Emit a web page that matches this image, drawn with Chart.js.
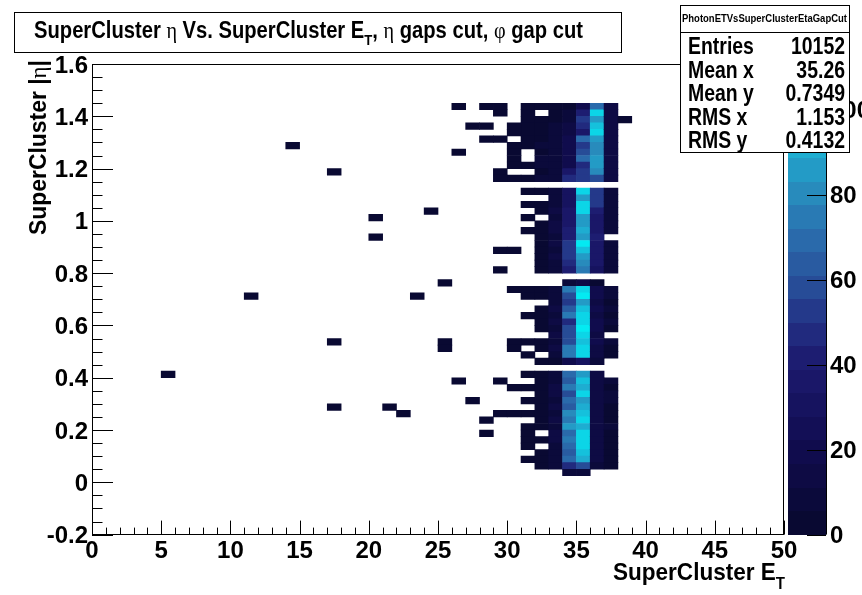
<!DOCTYPE html>
<html>
<head>
<meta charset="utf-8">
<script src="https://cdn.jsdelivr.net/npm/chart.js@4.4.1/dist/chart.umd.min.js"></script>
<style>
  html, body { margin: 0; padding: 0; background: #ffffff; }
  #wrap { width: 862px; height: 595px; position: relative; }
</style>
</head>
<body>
<div id="wrap"><canvas id="c" width="862" height="595"></canvas></div>
<script>
// Lower edge of every |eta| row, top row first (bin width 0.025)
const etaLow = [1.425,1.4,1.375,1.35,1.325,1.3,1.275,1.25,1.225,1.2,1.175,1.15,1.125,
  1.1,1.075,1.05,1.025,1.0,0.975,0.95,0.925,0.9,0.875,0.85,0.825,0.8,0.775,
  0.75,0.725,0.7,0.675,0.65,0.625,0.6,0.575,0.55,0.525,0.5,0.475,0.45,0.425,
  0.4,0.375,0.35,0.325,0.3,0.275,0.25,0.225,0.2,0.175,0.15,0.125,0.1,0.075,0.05,0.025];

// Entries per |eta| row for each E_T bin (bin lower edge in the name)
const col31 = [3,2,3,4,3,3,4,0,0,3,0,4,0,
  3,0,3,0,3,0,3,0,0,0,0,0,0,0,
  0,3,3,0,0,3,0,0,0,3,0,3,0,0,
  3,0,2,0,3,0,2,0,3,2,3,2,0,2,0,0];
const col32 = [2,0,3,4,5,5,6,5,6,6,5,6,0,
  3,0,4,3,0,4,3,4,3,4,3,3,3,0,
  0,3,3,0,4,3,3,3,0,3,3,0,3,0,
  4,3,3,4,4,3,3,4,4,0,4,0,3,3,2,0];
const col33 = [3,4,5,6,7,8,8,8,9,10,9,10,0,
  8,10,10,12,10,12,12,10,12,10,12,10,10,0,
  0,10,8,10,12,10,12,11,12,10,12,10,5,0,
  10,10,12,12,11,12,10,12,11,12,12,10,10,8,6,0];
const col34 = [5,8,10,12,15,18,20,18,20,22,35,45,0,
  30,28,32,35,38,35,40,42,50,55,52,45,40,0,
  8,72,58,55,65,75,45,60,60,60,75,75,20,0,
  70,65,75,60,70,65,80,75,85,70,72,70,65,70,45,6];
const col35 = [22,40,55,45,35,70,55,60,68,45,55,55,0,
  100,85,100,100,85,88,92,85,110,95,88,80,75,0,
  12,100,112,85,95,100,100,108,100,95,100,105,30,0,
  85,95,90,105,85,90,95,100,90,105,100,105,95,90,60,8];
const col36 = [70,100,85,95,100,85,80,82,85,85,80,58,0,
  55,55,50,40,38,36,38,40,35,35,38,35,32,0,
  5,20,18,16,18,16,17,18,16,18,16,15,6,0,
  15,15,14,15,14,16,15,16,14,15,14,15,12,12,8,0];
const col37 = [12,15,12,12,14,12,12,13,14,12,12,14,0,
  10,8,8,8,6,8,8,0,7,7,6,6,6,0,
  0,6,6,5,6,5,6,5,0,6,5,5,0,0,
  0,6,5,6,6,5,4,5,6,5,4,5,4,4,3,0];

// Isolated entries away from the main band
const strayEt  = [5,11,14,17,20,20,24,23,25,17,25,25,26,27,17,21,22,28,28,29,30,30,30,30,30,
  26,26,28,29,27,28,29,28,29,30,30,30,30,30,30,30,29,29,38,29,30,29,29];
const strayEta = [0.4,0.7,1.275,1.175,1.0,0.925,1.025,0.7,0.75,0.525,0.525,0.5,0.375,0.3,0.275,0.275,0.25,0.225,0.175,0.25,0.25,0.35,0.525,0.5,0.725,
  1.25,1.425,1.425,1.425,1.35,1.35,1.4,1.3,1.3,1.35,1.325,1.275,1.25,1.225,1.2,1.15,1.175,1.15,1.375,0.875,0.875,0.8,0.375];
const strayN   = [1,1,1,1,1,1,1,1,1,1,1,1,1,1,1,1,1,1,1,1,1,1,1,1,1,
  1,1,1,1,1,1,1,1,1,2,1,2,1,1,2,1,1,1,1,1,1,1,1];

// Axis ticks
const etTicks = [0,5,10,15,20,25,30,35,40,45,50];
const zTicks = [0,20,40,60,80,100];

// Statistics box
const statsName = 'PhotonETVsSuperClusterEtaGapCut';
const statsLabels = ['Entries', 'Mean x', 'Mean y', 'RMS x', 'RMS y'];
const statsValues = ['10152', '35.26', '0.7349', '1.153', '0.4132'];

const ET_BIN = 1, ETA_BIN = 0.025;
const Z_MAX = 110.7, N_LEVELS = 20;
const SANS = '"Liberation Sans", Arial, Helvetica, sans-serif';
const SERIF = '"Liberation Serif", "DejaVu Serif", serif';

// colour palette (value -> rgb)
const paletteStops = [
  [0, [8, 8, 45]], [20, [16, 12, 78]], [40, [28, 26, 110]], [50, [35, 48, 132]],
  [60, [40, 82, 155]], [70, [42, 108, 172]], [80, [40, 138, 188]], [90, [32, 168, 206]],
  [100, [16, 204, 226]], [110.7, [0, 245, 248]]
];
function paletteAt(v) {
  for (let i = 1; i < paletteStops.length; i++) {
    const [v1, c1] = paletteStops[i];
    const [v0, c0] = paletteStops[i - 1];
    if (v <= v1) {
      const t = (v - v0) / (v1 - v0);
      const c = c0.map((a, k) => Math.round(a + (c1[k] - a) * t));
      return `rgb(${c[0]},${c[1]},${c[2]})`;
    }
  }
  const c = paletteStops[paletteStops.length - 1][1];
  return `rgb(${c[0]},${c[1]},${c[2]})`;
}
function levelOf(n) {
  return Math.max(0, Math.min(N_LEVELS - 1, Math.floor(n * N_LEVELS / Z_MAX)));
}
function levelColor(lvl) {
  return paletteAt((lvl + 0.5) * Z_MAX / N_LEVELS);
}

// Build the cell list
const cells = [];
[[31, col31], [32, col32], [33, col33], [34, col34], [35, col35], [36, col36], [37, col37]].forEach(([et, counts]) => {
  counts.forEach((n, i) => {
    if (n > 0) cells.push({ x: et + ET_BIN / 2, y: [etaLow[i], etaLow[i] + ETA_BIN], n });
  });
});
strayEt.forEach((et, i) => {
  cells.push({ x: et + ET_BIN / 2, y: [strayEta[i], strayEta[i] + ETA_BIN], n: strayN[i] });
});

// text helpers: runs drawn left to right with a common horizontal squeeze
function runsWidth(ctx, runs, sx) {
  let w = 0;
  runs.forEach(r => { ctx.font = r.font; w += ctx.measureText(r.t).width * sx; });
  return w;
}
function drawRuns(ctx, runs, x, y, sx) {
  let cx = x;
  runs.forEach(r => {
    ctx.save();
    ctx.font = r.font;
    ctx.textBaseline = 'alphabetic';
    ctx.textAlign = 'left';
    ctx.translate(cx, y + (r.dy || 0));
    ctx.scale(sx, 1);
    ctx.fillText(r.t, 0, 0);
    ctx.restore();
    ctx.font = r.font;
    cx += ctx.measureText(r.t).width * sx;
  });
}
function fitRuns(ctx, runs, targetW) {
  return targetW / runsWidth(ctx, runs, 1);
}

const decor = {
  id: 'decor',
  beforeDraw(chart) {
    const ctx = chart.ctx;
    ctx.save();
    ctx.fillStyle = '#ffffff';
    ctx.fillRect(0, 0, chart.width, chart.height);
    ctx.restore();
  },
  afterDatasetsDraw(chart) {
    const ctx = chart.ctx;
    const xs = chart.scales.x, ys = chart.scales.y, zs = chart.scales.z;
    const a = chart.chartArea;
    ctx.save();
    ctx.strokeStyle = '#000';
    ctx.lineWidth = 1;
    // frame
    ctx.strokeRect(Math.round(a.left) + 0.5, Math.round(a.top) + 0.5,
      Math.round(a.right - a.left) - 1, Math.round(a.bottom - a.top) - 1);
    // x ticks: major every 5, minor every 1
    ctx.beginPath();
    for (let v = 0; v <= 50; v += 1) {
      const px = Math.round(xs.getPixelForValue(v)) + 0.5;
      const len = (v % 5 === 0) ? 14 : 7;
      ctx.moveTo(px, a.bottom);
      ctx.lineTo(px, a.bottom - len);
    }
    // y ticks: major every 0.2, minor every 0.05
    for (let k = 0; k <= 36; k++) {
      const v = -0.2 + k * 0.05;
      const py = Math.round(ys.getPixelForValue(v)) + 0.5;
      const len = (k % 4 === 0) ? 21 : 10.5;
      ctx.moveTo(a.left, py);
      ctx.lineTo(a.left + len, py);
    }
    ctx.stroke();

    // colour scale
    const pl = 788, pr = 826;
    for (let l = 0; l < N_LEVELS; l++) {
      const y0 = zs.getPixelForValue(l * Z_MAX / N_LEVELS);
      const y1 = zs.getPixelForValue((l + 1) * Z_MAX / N_LEVELS);
      ctx.fillStyle = levelColor(l);
      ctx.fillRect(pl, Math.round(y1), pr - pl, Math.round(y0) - Math.round(y1));
    }
    ctx.beginPath();
    ctx.moveTo(pr + 0.5, a.top);
    ctx.lineTo(pr + 0.5, a.bottom);
    zTicks.forEach(v => {
      const py = Math.round(zs.getPixelForValue(v)) + 0.5;
      ctx.moveTo(pr, py);
      ctx.lineTo(pr - 19, py);
    });
    ctx.stroke();
    ctx.restore();
  },
  afterDraw(chart) {
    const ctx = chart.ctx;
    ctx.save();
    ctx.fillStyle = '#000';
    ctx.strokeStyle = '#000';
    ctx.lineWidth = 1;

    // title box
    ctx.fillStyle = '#fff';
    ctx.fillRect(14, 12, 607, 40);
    ctx.strokeRect(14.5, 12.5, 607, 40);
    ctx.fillStyle = '#000';
    const B = 'bold 23px ' + SANS, G = '23px ' + SERIF, SUB = 'bold 15px ' + SANS;
    const titleRuns = [
      { t: 'SuperCluster ', font: B }, { t: 'η', font: G }, { t: ' Vs. SuperCluster E', font: B },
      { t: 'T', font: SUB, dy: 7 }, { t: ', ', font: B }, { t: 'η', font: G },
      { t: ' gaps cut, ', font: B }, { t: 'φ', font: G }, { t: ' gap cut', font: B }
    ];
    const tsx = fitRuns(ctx, titleRuns, 549);
    drawRuns(ctx, titleRuns, 34, 38, tsx);

    // x axis title
    const BX = 'bold 24px ' + SANS;
    const xRuns = [{ t: 'SuperCluster E', font: BX }, { t: 'T', font: 'bold 16px ' + SANS, dy: 9 }];
    const xsx = fitRuns(ctx, xRuns, 172);
    drawRuns(ctx, xRuns, 613, 580, xsx);

    // y axis title (rotated)
    const yRuns = [{ t: 'SuperCluster |', font: BX }, { t: 'η', font: '24px ' + SERIF }, { t: '|', font: BX }];
    const ysx = fitRuns(ctx, yRuns, 175);
    ctx.save();
    ctx.translate(46, 235);
    ctx.rotate(-Math.PI / 2);
    drawRuns(ctx, yRuns, 0, 0, ysx);
    ctx.restore();

    // statistics box
    ctx.fillStyle = '#fff';
    ctx.fillRect(680, 5, 169, 147);
    ctx.strokeRect(680.5, 5.5, 169, 147);
    ctx.beginPath();
    ctx.moveTo(680, 32.5);
    ctx.lineTo(849, 32.5);
    ctx.stroke();
    ctx.fillStyle = '#000';
    const hRuns = [{ t: statsName, font: 'bold 10px ' + SANS }];
    const hsx = fitRuns(ctx, hRuns, 165);
    drawRuns(ctx, hRuns, 682, 22, hsx);
    const SF = 'bold 24px ' + SANS;
    const base = [54, 78, 101, 125, 148];
    statsLabels.forEach((lab, i) => {
      drawRuns(ctx, [{ t: lab, font: SF }], 688, base[i], 0.81);
      const vr = [{ t: statsValues[i], font: SF }];
      const w = runsWidth(ctx, vr, 0.81);
      drawRuns(ctx, vr, 845 - w, base[i], 0.81);
    });
    ctx.restore();
  }
};

const tickFont = { family: SANS, size: 24, weight: 'bold' };

new Chart(document.getElementById('c'), {
  type: 'bar',
  data: {
    datasets: [{
      data: cells,
      backgroundColor: c => levelColor(levelOf(c.raw ? c.raw.n : 0)),
      borderWidth: 0,
      barPercentage: 1,
      categoryPercentage: 1,
      grouped: false
    }]
  },
  options: {
    responsive: false,
    devicePixelRatio: 1,
    animation: false,
    layout: { padding: { top: 64, left: 0, right: 0, bottom: 0 } },
    plugins: { legend: { display: false }, tooltip: { enabled: false }, title: { display: false } },
    scales: {
      x: {
        type: 'linear', position: 'bottom', min: 0, max: 50, offset: false,
        grid: { display: false, drawTicks: false }, border: { display: false },
        afterBuildTicks: s => { s.ticks = etTicks.map(v => ({ value: v })); },
        ticks: { color: '#000', font: tickFont, padding: 2, maxRotation: 0, autoSkip: false },
        afterFit: s => { s.height = 59; }
      },
      y: {
        type: 'linear', position: 'left', min: -0.2, max: 1.6,
        grid: { display: false, drawTicks: false }, border: { display: false },
        ticks: {
          color: '#000', font: tickFont, padding: 4, stepSize: 0.2, autoSkip: false, labelOffset: 2,
          callback: v => String(Number(v.toFixed(2)))
        },
        afterFit: s => { s.width = 92; }
      },
      z: {
        type: 'linear', position: 'right', min: 0, max: Z_MAX,
        grid: { display: false, drawTicks: false }, border: { display: false },
        afterBuildTicks: s => { s.ticks = zTicks.map(v => ({ value: v })); },
        ticks: { color: '#000', font: tickFont, padding: 46, autoSkip: false, labelOffset: 2 },
        afterFit: s => { s.width = 78; }
      }
    }
  },
  plugins: [decor]
});
</script>
</body>
</html>
